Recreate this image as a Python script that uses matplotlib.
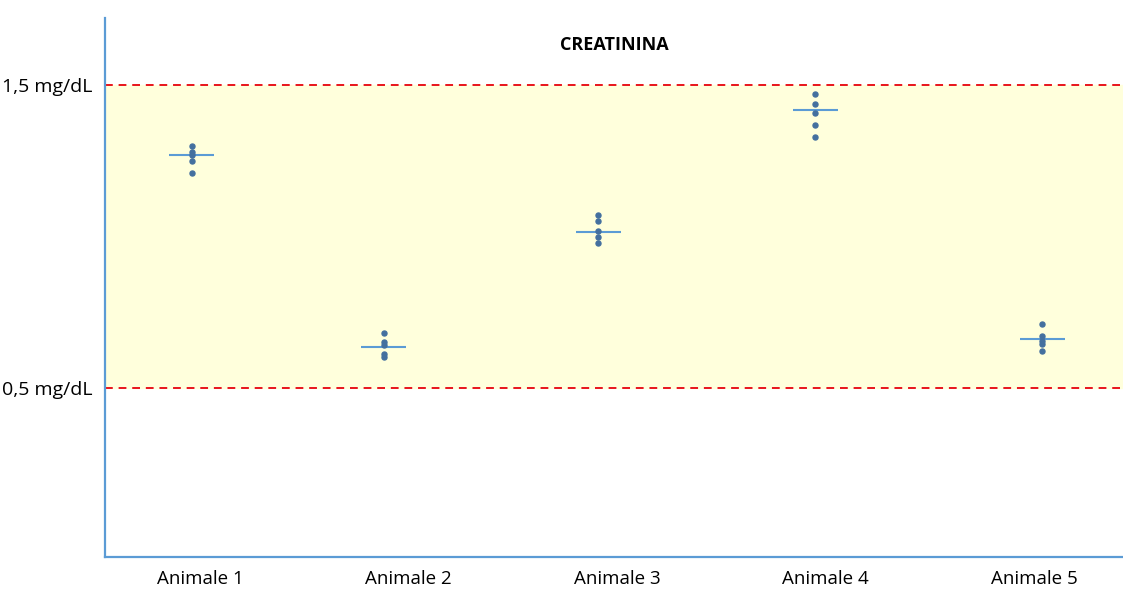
import matplotlib.pyplot as plt

animali = ['Animale 1', 'Animale 2', 'Animale 3', 'Animale 4', 'Animale 5']
x_animali = [0.96, 1.88, 2.91, 3.95, 5.04]
valori = [
    [1.30, 1.28, 1.27, 1.25, 1.21],
    [0.68, 0.65, 0.64, 0.61, 0.60],
    [1.07, 1.05, 1.02, 1.00, 0.98],
    [1.47, 1.44, 1.41, 1.37, 1.33],
    [0.71, 0.67, 0.655, 0.645, 0.62],
]
medie = [1.27, 0.635, 1.015, 1.42, 0.66]
limiti = [0.5, 1.5]
etichette_y = ['0,5 mg/dL', '1,5 mg/dL']

plt.rcParams['font.family'] = ['Open Sans', 'DejaVu Sans']
fig = plt.figure(figsize=(11.23, 5.94), dpi=100)
ax = fig.add_axes([105/1123, 37/594, 1018/1123, 539/594])

xmin, xmax = 0.544, 5.427
ax.set_xlim(xmin, xmax)
ax.set_ylim(-0.06, 1.723)

ax.axhspan(limiti[0], limiti[1], color='#ffffdc', zorder=0)
for l in limiti:
    ax.axhline(l, color='#e8141c', ls=(0, (4, 3)), lw=1.4, zorder=1)

for x, v, m in zip(x_animali, valori, medie):
    ax.scatter([x]*len(v), v, s=13, color='#44709f', zorder=3)
    ax.hlines(m, x - 0.108, x + 0.108, color='#5b9bd5', lw=1.5, zorder=2)

ax.set_xticks(range(1, 6))
ax.set_xticklabels(animali, fontsize=13.5)
ax.set_yticks(limiti)
ax.set_yticklabels(etichette_y, fontsize=14)
ax.tick_params(axis='y', length=0, pad=9)
ax.tick_params(axis='x', length=0, pad=9)

for s in ['top', 'right']:
    ax.spines[s].set_visible(False)
for s in ['left', 'bottom']:
    ax.spines[s].set_color('#5b9bd5')
    ax.spines[s].set_linewidth(1.6)

ax.set_title('CREATININA', fontsize=13, fontweight='bold', y=0.925)

fig.savefig('out.png', dpi=100)
